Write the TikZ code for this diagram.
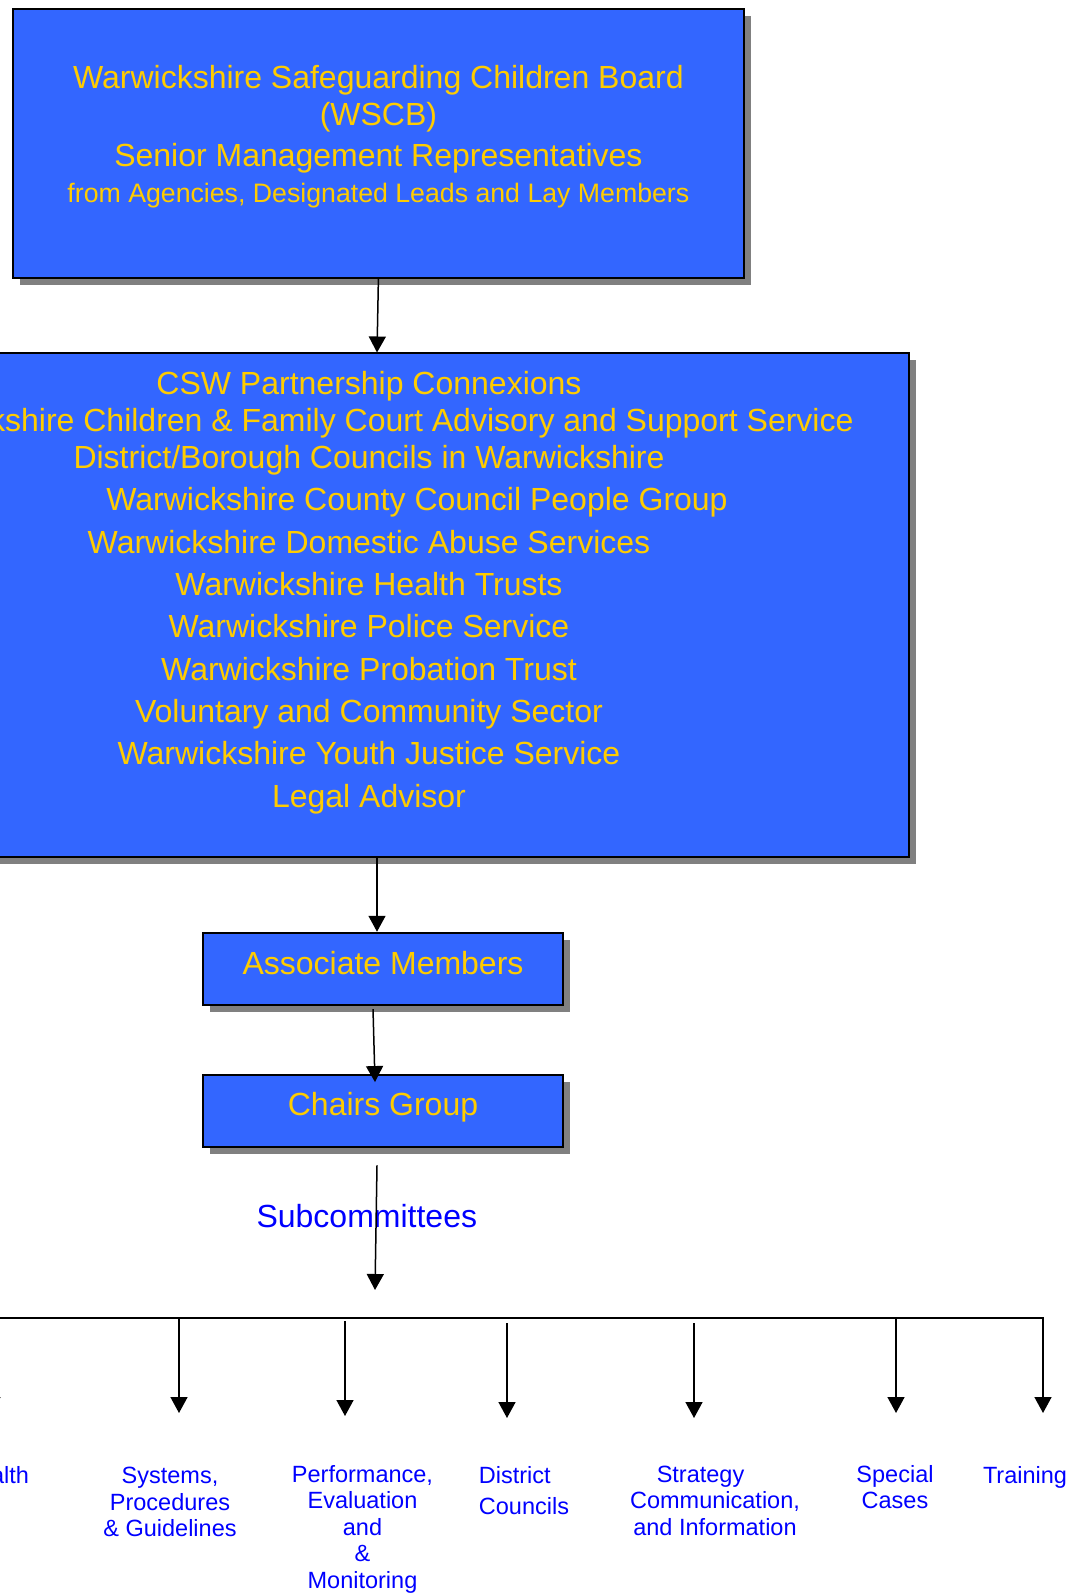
\documentclass[tikz,border=0pt]{standalone}
\usepackage{fontspec}
\setmainfont{Liberation Sans}
\usetikzlibrary{arrows.meta,shadows}
\definecolor{boxBlue}{HTML}{3366FF}
\definecolor{boardYellow}{HTML}{FFCC00}
\definecolor{subBlue}{HTML}{0000FF}
\definecolor{shadowGray}{HTML}{808080}

\begin{document}
\begin{tikzpicture}[x=0.5pt, y=-0.5pt,
    boxStyle/.style={draw=black, line width=1pt, fill=boxBlue, inner sep=0pt,
        drop shadow={shadow xshift=3.5pt, shadow yshift=-3.5pt, fill=shadowGray, opacity=1}},
    boardText/.style={text=boardYellow, font=\fontsize{16}{19}\selectfont, anchor=base, inner sep=0pt},
    subLabel/.style={text=subBlue, font=\fontsize{11.75}{13.3}\selectfont, anchor=base, inner sep=0pt},
    arr/.style={-{Triangle[length=8pt,width=8.5pt]}, line width=0.75pt}]
    \useasboundingbox (0,0) rectangle (1085,1593);
    \clip (0,0) rectangle (1085,1593);

    % boxes
    \node[boxStyle, minimum width=365.2pt, minimum height=134.5pt](wscb) at (378.4, 143.5) {};
    \node[boxStyle, minimum width=532pt, minimum height=251.5pt](members) at (377, 605) {};
    \node[boxStyle, minimum width=180.3pt, minimum height=36.15pt](assoc) at (383, 968.9) {};
    \node[boxStyle, minimum width=180.3pt, minimum height=36.15pt](chairs) at (383, 1111.2) {};

    % board
    \node[boardText](wscbName) at (378.4, 88.5) {Warwickshire Safeguarding Children Board};
    \node[boardText](wscbShort) at (378.4, 125.5) {(WSCB)};
    \node[boardText](wscbReps) at (378.4, 167) {Senior Management Representatives};
    \node[boardText, font=\fontsize{13.35}{16}\selectfont](wscbFrom) at (378.4, 203) {from Agencies, Designated Leads and Lay Members};

    % member agencies
    \node[boardText](mem1) at (369, 394.5) {CSW Partnership Connexions};
    \node[boardText](mem2) at (369.5, 431.5) {Warwickshire Children \& Family Court Advisory and Support Service};
    \node[boardText](mem3) at (369, 468.5) {District/Borough Councils in Warwickshire};
    \node[boardText](mem4) at (417, 510.5) {Warwickshire County Council People Group};
    \node[boardText](mem5) at (369, 553) {Warwickshire Domestic Abuse Services};
    \node[boardText](mem6) at (369, 595.5) {Warwickshire Health Trusts};
    \node[boardText](mem7) at (369, 637.5) {Warwickshire Police Service};
    \node[boardText](mem8) at (369, 680) {Warwickshire Probation Trust};
    \node[boardText](mem9) at (369, 722.5) {Voluntary and Community Sector};
    \node[boardText](mem10) at (369, 764.5) {Warwickshire Youth Justice Service};
    \node[boardText](mem11) at (369, 807) {Legal Advisor};

    \node[boardText](assocText) at (383, 974) {Associate Members};
    \node[boardText](chairsText) at (383, 1115.5) {Chairs Group};

    \node[boardText, text=subBlue](subTitle) at (366.8, 1227.5) {Subcommittees};

    \draw[arr] (wscb.south) -- (members.north);
    \draw[arr] (members.south) -- (members.south |- assoc.north);
    \draw[arr] ([xshift=-5pt,yshift=-1.5pt]assoc.south) -- ([xshift=-4pt,yshift=-4pt]chairs.north);
    \coordinate (subTip) at (375, 1290);
    \draw[arr] ([xshift=-3pt,yshift=-8.5pt]chairs.south) -- (subTip);

    % subcommittee bar
    \coordinate (barL) at (-40, 1318);
    \coordinate (barR) at (1043, 1318);
    \coordinate (hlthTip) at (-8, 1413);
    \coordinate (sysTip) at (179, 1413);
    \coordinate (perfTip) at (345, 1416);
    \coordinate (distTip) at (507, 1418);
    \coordinate (stratTip) at (694, 1418);
    \coordinate (specTip) at (896, 1413);
    \coordinate (trainTip) at (1043, 1413);

    \draw[arr] (barL) -- (barR) -- (trainTip);
    \draw[arr] (hlthTip |- barL) -- (hlthTip);
    \draw[arr] (sysTip |- barL) -- (sysTip);
    \draw[arr] ([yshift=-1.5pt]perfTip |- barL) -- (perfTip);
    \draw[arr] ([yshift=-2.5pt]distTip |- barL) -- (distTip);
    \draw[arr] ([yshift=-2.5pt]stratTip |- barL) -- (stratTip);
    \draw[arr] (specTip |- barL) -- (specTip);

    % subcommittees
    \node[subLabel](hlthLbl) at (-5, 1483) {Health};
    \node[subLabel](sysLbl) at (170, 1483.5) {\begin{tabular}[t]{@{}c@{}}Systems,\\Procedures\\\& Guidelines\end{tabular}};
    \node[subLabel](perfLbl) at (362.5, 1482) {\begin{tabular}[t]{@{}c@{}}Performance,\\Evaluation\\and\\\&\\Monitoring\end{tabular}};
    \node[subLabel, anchor=base west](distLbl) at (478.5, 1483) {\begin{tabular}[t]{@{}l@{}}District\\[2.35pt]Councils\end{tabular}};
    \node[subLabel](stratLbl) at (715, 1482) {\begin{tabular}[t]{@{}c@{}}Strategy\kern14.5pt\\Communication,\\and Information\end{tabular}};
    \node[subLabel](specLbl) at (895, 1482) {\begin{tabular}[t]{@{}c@{}}Special\\Cases\end{tabular}};
    \node[subLabel](trainLbl) at (1025, 1483) {Training};
\end{tikzpicture}
\end{document}
